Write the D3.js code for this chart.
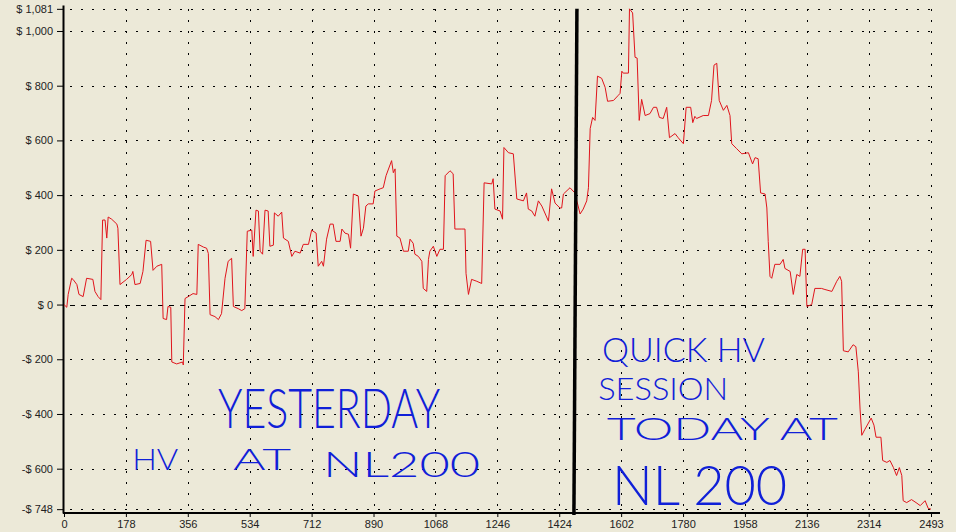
<!DOCTYPE html>
<html>
<head>
<meta charset="utf-8">
<script src="https://d3js.org/d3.v7.min.js"></script>
<style type="text/css">
	body { margin: 0; background: #ece9d8; }
	svg { display: block; font-family: "Liberation Sans", Tahoma, sans-serif; }
	.tick text { font-size: 11px; fill: #222; }
	.note { fill: #1020d8; font-family: "Lato", "DejaVu Sans", sans-serif; font-weight: 300; }
</style>
</head>
<body>
<svg width="956" height="532"></svg>
<script>
var hands = [0,8,12,22,26,37,43,55,65,83,89,98,106,111,118,123,127,137,152,155,
	161,180,195,198,204,219,227,236,249,256,267,281,285,295,299,307,310,324,341,343,
	348,357,371,382,386,401,410,415,420,434,444,453,463,472,482,487,501,511,520,527,
	540,544,552,559,564,571,578,587,592,602,605,616,626,631,645,655,664,679,688,703,
	712,725,731,741,746,755,765,774,782,794,799,808,818,824,832,846,854,861,868,875,
	889,894,909,918,926,942,947,952,957,966,976,990,995,1004,1009,1019,1029,1033,1043,1048,
	1052,1062,1072,1081,1091,1096,1110,1119,1124,1144,1153,1156,1163,1172,1187,1201,1208,1230,1234,1239,
	1254,1261,1265,1278,1292,1302,1321,1330,1335,1345,1354,1364,1374,1393,1402,1412,1426,1431,1436,1455,
	1469,1484,1493,1503,1508,1513,1520,1527,1534,1546,1556,1563,1580,1594,1599,1604,1608,1623,1626,1635,
	1642,1648,1654,1661,1671,1685,1695,1704,1712,1723,1733,1741,1757,1766,1781,1789,1802,1808,1814,1819,
	1838,1853,1862,1869,1877,1884,1896,1906,1915,1920,1934,1949,1968,1980,1987,1996,2003,2016,2021,2025,
	2030,2035,2044,2059,2068,2073,2088,2097,2107,2116,2124,2131,2136,2150,2159,2178,2188,2208,2222,2231,
	2236,2241,2255,2269,2277,2284,2289,2294,2303,2321,2329,2335,2349,2354,2366,2375,2385,2394,2402,2409,
	2413,2423,2437,2450,2462,2476,2485,2493];

var profit = [0,-10,37,96,92,73,37,29,96,92,48,29,18,309,309,243,320,312,294,279,
	73,92,110,121,73,77,121,235,231,125,140,147,-51,-55,-7,-10,-210,-217,-210,-221,
	22,29,40,37,220,210,206,187,-37,-44,-55,-33,96,158,169,-7,-15,-22,-15,268,
	272,176,345,342,195,184,345,342,213,217,335,323,338,243,231,176,195,188,220,220,
	272,261,140,158,140,239,294,294,231,231,276,261,257,206,404,397,250,279,360,368,
	368,415,423,427,471,526,482,496,250,243,195,195,239,224,184,176,158,59,48,165,
	195,213,176,202,202,471,489,478,276,276,276,114,37,92,85,77,445,441,460,349,
	342,312,574,555,551,386,379,408,349,342,323,379,360,305,423,371,353,353,404,427,
	408,331,349,379,427,643,684,673,835,827,794,743,746,765,772,853,846,846,1081,1066,
	904,901,673,750,691,698,721,721,684,680,721,610,625,610,588,721,721,665,688,680,
	691,691,746,875,882,746,710,728,691,588,570,551,555,514,537,533,408,404,353,231,
	103,96,147,147,165,132,121,37,110,103,202,202,-7,0,59,59,55,48,85,103,
	85,-169,-173,-147,-154,-246,-382,-478,-456,-415,-441,-485,-485,-570,-577,-570,-596,-625,-596,-625,
	-717,-724,-713,-724,-735,-717,-745,-748];

var yTicks = [1081, 1000, 800, 600, 400, 200, 0, -200, -400, -600, -748];
var xTicks = [0, 178, 356, 534, 712, 890, 1068, 1246, 1424, 1602, 1780, 1958, 2136, 2314, 2493];
var sessionSplit = 1472;

var noteText  = ["YESTERDAY", "HV", "AT", "NL200", "QUICK HV", "SESSION", "TODAY AT", "NL 200"];
var noteHand  = [443, 196, 486, 745, 1547, 1536, 1561, 1576];
var noteValue = [-451, -605, -605, -630, -210, -349, -495, -733];

var svg = d3.select("svg");

var x = d3.scaleLinear().domain([0, 2493]).range([64, 931]);
var y = d3.scaleLinear().domain([-762, 1095]).range([513, 5]);

function money(v) {
	return (v < 0 ? "-$ " : "$ ") + d3.format(",")(Math.abs(v));
}

// grid
svg.append("g").selectAll("line")
	.data(yTicks)
	.enter().append("line")
	.attr("x1", x(0)).attr("x2", x(2493) + 4)
	.attr("y1", function(d) { return Math.round(y(d)) + 0.5; })
	.attr("y2", function(d) { return Math.round(y(d)) + 0.5; })
	.attr("stroke", "#000")
	.attr("stroke-dasharray", function(d) { return d == 0 ? "5,6" : "2,9"; })
	.attr("stroke-dashoffset", -6);

svg.append("g").selectAll("line")
	.data(xTicks.slice(1))
	.enter().append("line")
	.attr("x1", function(d) { return Math.round(x(d)) + 0.5; })
	.attr("x2", function(d) { return Math.round(x(d)) + 0.5; })
	.attr("y1", y.range()[1]).attr("y2", y.range()[0])
	.attr("stroke", "#000")
	.attr("stroke-dasharray", "2,9")
	.attr("stroke-dashoffset", -4);

// axes
var gy = svg.append("g")
	.attr("transform", "translate(63,0)")
	.call(d3.axisLeft(y).tickValues(yTicks).tickSize(6).tickSizeOuter(0).tickPadding(4).tickFormat(money));
gy.select(".domain").attr("stroke-width", 2);

var gx = svg.append("g")
	.attr("transform", "translate(0,513)")
	.call(d3.axisBottom(x).tickValues(xTicks).tickSize(4).tickSizeOuter(0).tickPadding(3).tickFormat(d3.format("d")));
gx.select(".domain").attr("stroke-width", 2).attr("d", "M63,0H940");

// equity line
var line = d3.line()
	.x(function(d) { return x(d[0]); })
	.y(function(d) { return y(d[1]); });

svg.append("path")
	.datum(d3.zip(hands, profit))
	.attr("fill", "none")
	.attr("stroke", "#e0141c")
	.attr("stroke-width", 1)
	.attr("d", line);

// session split marker
svg.append("line")
	.attr("x1", x(sessionSplit) + 1).attr("x2", x(sessionSplit) - 2)
	.attr("y1", y(1081)).attr("y2", y.range()[0] + 2)
	.attr("stroke", "#000")
	.attr("stroke-width", 3.5);

// handwritten notes
var sizes = [56, 30, 30, 36, 34, 31, 31, 56];
var widths = [222, 46, 58, 157, 163, 130, 231, 175];
svg.append("g").selectAll("text")
	.data(noteText)
	.enter().append("text")
	.attr("class", "note")
	.attr("x", function(d, i) { return x(noteHand[i]); })
	.attr("y", function(d, i) { return y(noteValue[i]); })
	.attr("font-size", function(d, i) { return sizes[i]; })
	.attr("textLength", function(d, i) { return widths[i]; })
	.attr("lengthAdjust", "spacingAndGlyphs")
	.text(function(d) { return d; });
</script>
</body>
</html>
